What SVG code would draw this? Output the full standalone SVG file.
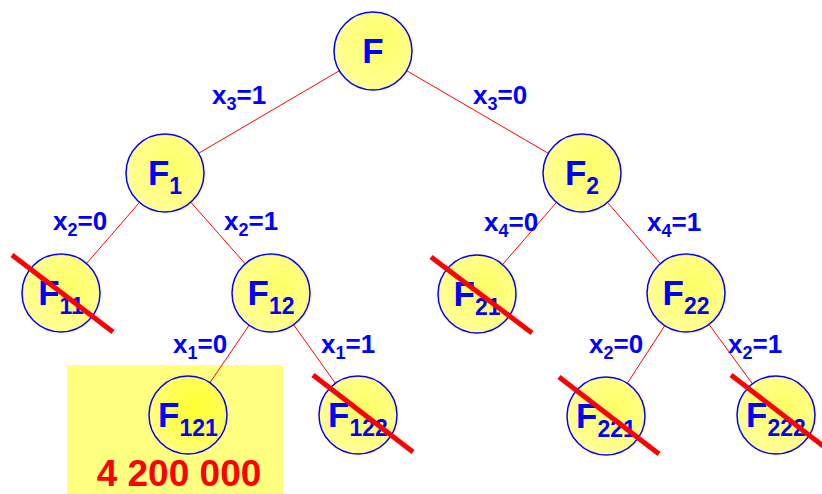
<svg xmlns="http://www.w3.org/2000/svg" width="822" height="494" viewBox="0 0 822 494">
<defs>
<radialGradient id="g" cx="60%" cy="40%" r="65%">
<stop offset="0" stop-color="#FFFF66"/>
<stop offset="1" stop-color="#FFFF99"/>
</radialGradient>
<radialGradient id="gb" cx="60%" cy="40%" r="70%">
<stop offset="0" stop-color="#FFFF30"/>
<stop offset="0.5" stop-color="#FFFF55"/>
<stop offset="1" stop-color="#FFFF88"/>
</radialGradient>
</defs>
<style>
.n{stroke:#0000FF;stroke-width:1.5;fill:url(#g)}
.t{font-family:"Liberation Sans",Arial,sans-serif;font-weight:bold;fill:#0000FF;font-size:35px;text-anchor:middle}
.s{font-size:23px}
.l{font-family:"Liberation Sans",Arial,sans-serif;font-weight:bold;fill:#0000FF;font-size:26px}
.ls{font-size:18px}
.e{stroke:#FF0000;stroke-width:1;fill:none}
.x{stroke:#FF0000;stroke-width:5;stroke-linecap:butt}
</style>
<rect x="67" y="365" width="216" height="129" fill="#FFFF80"/>
<g id="connectors">
<line class="e" x1="373" y1="51" x2="165" y2="173"/>
<line class="e" x1="373" y1="51" x2="582" y2="173"/>
<line class="e" x1="165" y1="173" x2="61" y2="293"/>
<line class="e" x1="165" y1="173" x2="271" y2="293"/>
<line class="e" x1="582" y1="173" x2="477" y2="294"/>
<line class="e" x1="582" y1="173" x2="686" y2="293"/>
<line class="e" x1="271" y1="293" x2="188" y2="415"/>
<line class="e" x1="271" y1="293" x2="358" y2="415"/>
<line class="e" x1="686" y1="293" x2="606" y2="416"/>
<line class="e" x1="686" y1="293" x2="776" y2="416"/>
<text class="l" x="212" y="104">x<tspan class="ls" dy="6">3</tspan><tspan dy="-6">=1</tspan></text>
<text class="l" x="473" y="104">x<tspan class="ls" dy="6">3</tspan><tspan dy="-6">=0</tspan></text>
<text class="l" x="53" y="230">x<tspan class="ls" dy="6">2</tspan><tspan dy="-6">=0</tspan></text>
<text class="l" x="224" y="230">x<tspan class="ls" dy="6">2</tspan><tspan dy="-6">=1</tspan></text>
<text class="l" x="484" y="231">x<tspan class="ls" dy="6">4</tspan><tspan dy="-6">=0</tspan></text>
<text class="l" x="647" y="231">x<tspan class="ls" dy="6">4</tspan><tspan dy="-6">=1</tspan></text>
<text class="l" x="173" y="353">x<tspan class="ls" dy="6">1</tspan><tspan dy="-6">=0</tspan></text>
<text class="l" x="321" y="353">x<tspan class="ls" dy="6">1</tspan><tspan dy="-6">=1</tspan></text>
<text class="l" x="589" y="353">x<tspan class="ls" dy="6">2</tspan><tspan dy="-6">=0</tspan></text>
<text class="l" x="728" y="353">x<tspan class="ls" dy="6">2</tspan><tspan dy="-6">=1</tspan></text>
</g>
<g id="F"><circle class="n" cx="373" cy="51" r="39"/><text class="t" x="373" y="63">F</text></g>
<g id="F1"><circle class="n" cx="165" cy="173" r="39"/><text class="t" x="165" y="185">F<tspan class="s" dy="9">1</tspan></text></g>
<g id="F2"><circle class="n" cx="582" cy="173" r="39"/><text class="t" x="582" y="185">F<tspan class="s" dy="9">2</tspan></text></g>
<g id="F11"><circle class="n" cx="61" cy="293" r="39"/><text class="t" x="61" y="305">F<tspan class="s" dy="9">11</tspan></text><line class="x" x1="12" y1="255" x2="113" y2="332"/></g>
<g id="F12"><circle class="n" cx="271" cy="293" r="39"/><text class="t" x="271" y="305">F<tspan class="s" dy="9">12</tspan></text></g>
<g id="F21"><circle class="n" cx="477" cy="294" r="39"/><text class="t" x="477" y="306">F<tspan class="s" dy="9">21</tspan></text><line class="x" x1="431" y1="257" x2="532" y2="333"/></g>
<g id="F22"><circle class="n" cx="686" cy="293" r="39"/><text class="t" x="686" y="305">F<tspan class="s" dy="9">22</tspan></text></g>
<g id="F121"><circle class="n" cx="188" cy="415" r="39" style="fill:url(#gb)"/><text class="t" x="188" y="427">F<tspan class="s" dy="9">121</tspan></text></g>
<g id="F122"><circle class="n" cx="358" cy="415" r="39"/><text class="t" x="358" y="427">F<tspan class="s" dy="9">122</tspan></text><line class="x" x1="313" y1="375" x2="413" y2="452"/></g>
<g id="F221"><circle class="n" cx="606" cy="416" r="39"/><text class="t" x="606" y="428">F<tspan class="s" dy="9">221</tspan></text><line class="x" x1="559" y1="377" x2="659" y2="454"/></g>
<g id="F222"><circle class="n" cx="776" cy="415" r="39"/><text class="t" x="776" y="427">F<tspan class="s" dy="9">222</tspan></text><line class="x" x1="731" y1="375" x2="831" y2="452"/></g>
<text x="179" y="486" font-family="Liberation Sans, Arial, sans-serif" font-weight="bold" font-size="37" fill="#FF0000" text-anchor="middle">4 200 000</text>
</svg>
